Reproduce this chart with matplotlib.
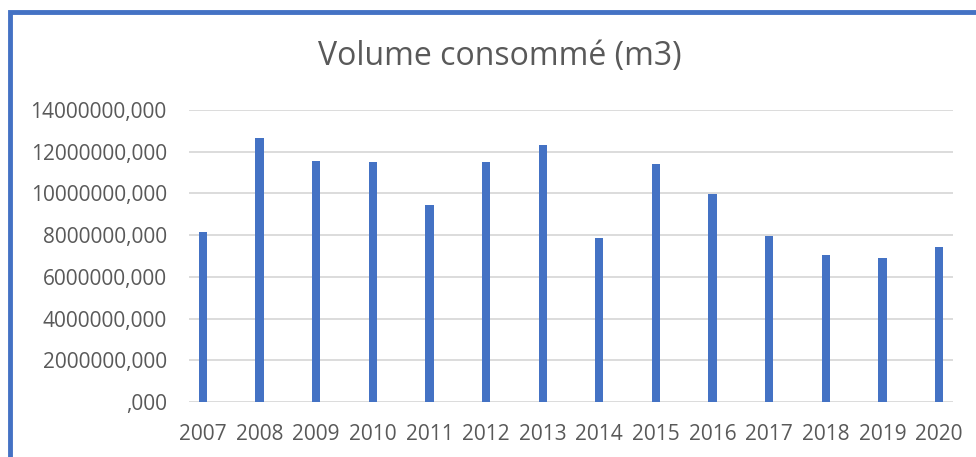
import matplotlib.pyplot as plt
from matplotlib.patches import Rectangle

years = ["2007", "2008", "2009", "2010", "2011", "2012", "2013",
         "2014", "2015", "2016", "2017", "2018", "2019", "2020"]
volume = [8140000, 12640000, 11560000, 11490000, 9460000, 11510000, 12300000,
          7840000, 11410000, 9970000, 7980000, 7030000, 6900000, 7420000]
y_ticks = [0, 2000000, 4000000, 6000000, 8000000, 10000000, 12000000, 14000000]
y_labels = [",000", "2000000,000", "4000000,000", "6000000,000",
            "8000000,000", "10000000,000", "12000000,000", "14000000,000"]

blue = "#4472C4"
grey = "#595959"
plt.rcParams['font.family'] = ['Open Sans', 'DejaVu Sans']

fig = plt.figure(figsize=(9.76, 4.57), dpi=100)
ax = fig.add_axes([189 / 976, 1 - 402 / 457, 764 / 976, 292 / 457])

x = list(range(len(years)))
ax.bar(x, volume, width=0.145, color=blue, zorder=3)

ax.set_ylim(0, 14000000)
ax.set_xlim(-0.247, 13.247)
ax.set_yticks(y_ticks)
ax.set_yticklabels(y_labels)
ax.set_xticks(x)
ax.set_xticklabels(years)
ax.grid(axis='y', color="#D9D9D9", linewidth=1.3, zorder=0)
ax.tick_params(axis='y', length=0, pad=16, labelsize=15, labelcolor=grey)
ax.tick_params(axis='x', length=0, pad=16, labelsize=15, labelcolor=grey)
for s in ax.spines.values():
    s.set_visible(False)

fig.text(500 / 976, 1 - 57 / 457, "Volume consommé (m3)", ha='center', va='center',
         fontsize=23, color=grey)

# chart frame, only top and left edges are inside the picture
fig.patches.append(Rectangle((10 / 976, -0.1), 1.2, 1 - 11.5 / 457 + 0.1,
                             transform=fig.transFigure, fill=False,
                             edgecolor=blue, linewidth=3.5))

fig.savefig("out.png", dpi=100)
